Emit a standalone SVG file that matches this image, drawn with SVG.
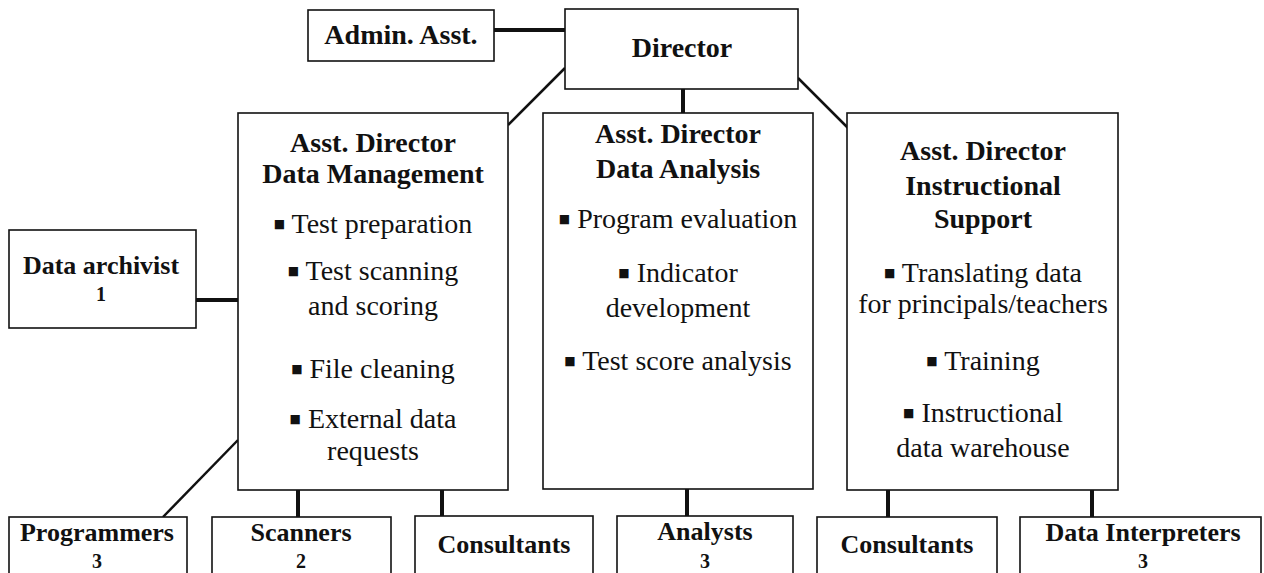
<svg xmlns="http://www.w3.org/2000/svg" width="1264" height="573" viewBox="0 0 1264 573">
<style>
.box{fill:#fff;stroke:#111;stroke-width:1.6}
.t{font-family:"Liberation Serif","Times New Roman",serif;font-size:28px;fill:#111;text-anchor:middle}
.b{font-weight:bold}
.s{font-size:26px}
.n{font-size:20px}
.bul{font-family:"DejaVu Sans",sans-serif;font-size:12px;baseline-shift:5px}
.c{stroke:#111;fill:none}
.thick{stroke-width:4}
.thin{stroke-width:2.5}
</style>
<rect width="1264" height="573" fill="#fff"/>
<g id="connectors">
<line class="c thick" x1="494" y1="30" x2="565" y2="30"/>
<line class="c thin" x1="565" y1="68" x2="508" y2="125"/>
<line class="c thick" x1="683" y1="89" x2="683" y2="113"/>
<line class="c thin" x1="798" y1="78" x2="848" y2="128"/>
<line class="c thick" x1="196" y1="300" x2="238" y2="300"/>
<line class="c thin" x1="238" y1="440" x2="163" y2="517"/>
<line class="c thick" x1="298" y1="490" x2="298" y2="517"/>
<line class="c thick" x1="442" y1="490" x2="442" y2="516"/>
<line class="c thick" x1="687" y1="489" x2="687" y2="516"/>
<line class="c thick" x1="888" y1="490" x2="888" y2="517"/>
<line class="c thick" x1="1092" y1="490" x2="1092" y2="517"/>
</g>
<g id="admin">
<rect class="box" x="308" y="10" width="186" height="51"/>
<text class="t b" x="401" y="44">Admin. Asst.</text>
</g>
<g id="director">
<rect class="box" x="565" y="9" width="233" height="80"/>
<text class="t b" x="682" y="57">Director</text>
</g>
<g id="addm">
<rect class="box" x="238" y="113" width="270" height="377"/>
<text class="t b" x="373" y="152">Asst. Director</text>
<text class="t b" x="373" y="183">Data Management</text>
<text class="t" x="373" y="233"><tspan class="bul">■</tspan> Test preparation</text>
<text class="t" x="373" y="280"><tspan class="bul">■</tspan> Test scanning</text>
<text class="t" x="373" y="315">and scoring</text>
<text class="t" x="373" y="378"><tspan class="bul">■</tspan> File cleaning</text>
<text class="t" x="373" y="428"><tspan class="bul">■</tspan> External data</text>
<text class="t" x="373" y="460">requests</text>
</g>
<g id="adda">
<rect class="box" x="543" y="113" width="270" height="376"/>
<text class="t b" x="678" y="143">Asst. Director</text>
<text class="t b" x="678" y="178">Data Analysis</text>
<text class="t" x="678" y="228"><tspan class="bul">■</tspan> Program evaluation</text>
<text class="t" x="678" y="282"><tspan class="bul">■</tspan> Indicator</text>
<text class="t" x="678" y="317">development</text>
<text class="t" x="678" y="370"><tspan class="bul">■</tspan> Test score analysis</text>
</g>
<g id="adis">
<rect class="box" x="847" y="113" width="271" height="377"/>
<text class="t b" x="983" y="160">Asst. Director</text>
<text class="t b" x="983" y="195">Instructional</text>
<text class="t b" x="983" y="228">Support</text>
<text class="t" x="983" y="282"><tspan class="bul">■</tspan> Translating data</text>
<text class="t" x="983" y="313">for principals/teachers</text>
<text class="t" x="983" y="370"><tspan class="bul">■</tspan> Training</text>
<text class="t" x="983" y="422"><tspan class="bul">■</tspan> Instructional</text>
<text class="t" x="983" y="457">data warehouse</text>
</g>
<g id="archivist">
<rect class="box" x="9" y="230" width="187" height="98"/>
<text class="t b s" x="101" y="274">Data archivist</text>
<text class="t b n" x="101" y="301">1</text>
</g>
<g id="programmers">
<rect class="box" x="9" y="517" width="178" height="70"/>
<text class="t b s" x="97" y="541">Programmers</text>
<text class="t b n" x="97" y="568">3</text>
</g>
<g id="scanners">
<rect class="box" x="212" y="517" width="179" height="70"/>
<text class="t b s" x="301" y="541">Scanners</text>
<text class="t b n" x="301" y="568">2</text>
</g>
<g id="consultants1">
<rect class="box" x="415" y="516" width="178" height="70"/>
<text class="t b s" x="504" y="553">Consultants</text>
</g>
<g id="analysts">
<rect class="box" x="617" y="516" width="176" height="70"/>
<text class="t b s" x="705" y="540">Analysts</text>
<text class="t b n" x="705" y="568">3</text>
</g>
<g id="consultants2">
<rect class="box" x="817" y="517" width="180" height="70"/>
<text class="t b s" x="907" y="553">Consultants</text>
</g>
<g id="interpreters">
<rect class="box" x="1020" y="517" width="241" height="70"/>
<text class="t b s" x="1143" y="541">Data Interpreters</text>
<text class="t b n" x="1143" y="568">3</text>
</g>
</svg>
